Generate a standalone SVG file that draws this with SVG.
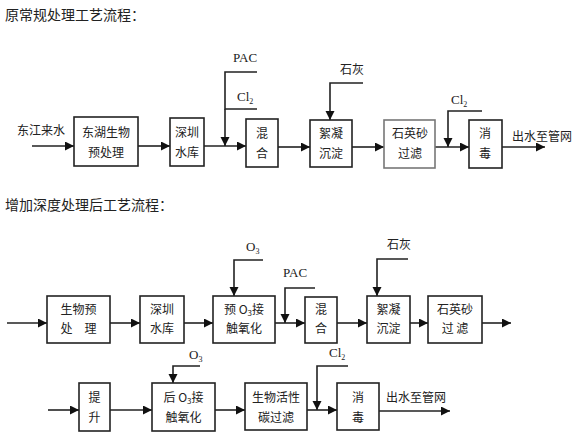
<svg xmlns="http://www.w3.org/2000/svg" width="582" height="437" viewBox="0 0 582 437">
<defs>
<marker id="ah" markerUnits="userSpaceOnUse" markerWidth="10" markerHeight="10" refX="9" refY="4.5" orient="auto">
<path d="M0,0 L9,4.5 L0,9 z" fill="#111"/>
</marker>
<style>
.title{font-family:"Noto Sans CJK SC","Noto Sans",sans-serif;font-size:14px;fill:#222}
.bx{fill:#fff;stroke:#222;stroke-width:1.6}
.bxg{fill:#fff;stroke:#777;stroke-width:1.6}
.t{font-family:"Noto Sans CJK SC","Noto Sans",sans-serif;font-size:12px;fill:#222;text-anchor:middle}
.lab{font-family:"Noto Sans CJK SC",sans-serif;font-size:12px;fill:#222}
.ch{font-family:"Liberation Serif",serif;font-size:13px;fill:#222}
.ln{fill:none;stroke:#222;stroke-width:1.6}
.lna{fill:none;stroke:#222;stroke-width:1.6;marker-end:url(#ah)}
</style>
</defs>
<rect width="582" height="437" fill="#fff"/>
<text class="title" x="5" y="20">原常规处理工艺流程：</text>
<text class="title" x="5" y="210">增加深度处理后工艺流程：</text>

<g id="connectors">
<line class="lna" x1="32" y1="146" x2="74" y2="146"/>
<line class="lna" x1="138" y1="146" x2="170" y2="146"/>
<line class="lna" x1="204" y1="146" x2="246" y2="146"/>
<polyline class="ln" points="257,72 225,72 225,109 257,109"/>
<line class="lna" x1="225" y1="109" x2="225" y2="146"/>
<line class="lna" x1="278" y1="147" x2="310" y2="147"/>
<polyline class="lna" points="363,83 330,83 330,120"/>
<line class="lna" x1="352" y1="147" x2="384" y2="147"/>
<line class="lna" x1="435" y1="147" x2="469" y2="147"/>
<polyline class="lna" points="482,111 448,111 448,147"/>
<line class="lna" x1="502" y1="147" x2="545" y2="147"/>
<line class="lna" x1="7" y1="323" x2="47" y2="323"/>
<line class="lna" x1="110" y1="323" x2="140" y2="323"/>
<line class="lna" x1="184" y1="323" x2="213" y2="323"/>
<polyline class="lna" points="263,260 234,260 234,296"/>
<line class="lna" x1="275" y1="323" x2="305" y2="323"/>
<polyline class="lna" points="315,288 285,288 285,323"/>
<line class="lna" x1="337" y1="323" x2="367" y2="323"/>
<polyline class="lna" points="408,259 377,259 377,296"/>
<line class="lna" x1="410" y1="323" x2="428" y2="323"/>
<line class="lna" x1="482" y1="323" x2="511" y2="323"/>
<line class="lna" x1="48" y1="410" x2="79" y2="410"/>
<line class="lna" x1="110" y1="410" x2="152" y2="410"/>
<polyline class="lna" points="200,366 173,366 173,383"/>
<line class="lna" x1="215" y1="410" x2="245" y2="410"/>
<polyline class="lna" points="348,366 317,366 317,410"/>
<line class="lna" x1="307" y1="410" x2="337" y2="410"/>
<line class="lna" x1="379" y1="411" x2="450" y2="411"/>
</g>

<g id="labels">
<text class="lab" x="17" y="135">东江来水</text>
<text class="ch" x="233" y="62">PAC</text>
<text class="ch" x="237" y="101">Cl<tspan font-size="8" dy="3">2</tspan></text>
<text class="lab" x="340" y="74">石灰</text>
<text class="ch" x="451" y="104">Cl<tspan font-size="8" dy="3">2</tspan></text>
<text class="lab" x="512" y="141">出水至管网</text>
<text class="ch" x="246" y="251">O<tspan font-size="8" dy="3">3</tspan></text>
<text class="ch" x="283" y="277">PAC</text>
<text class="lab" x="387" y="249">石灰</text>
<text class="ch" x="189" y="359">O<tspan font-size="8" dy="3">3</tspan></text>
<text class="ch" x="329" y="357">Cl<tspan font-size="8" dy="3">2</tspan></text>
<text class="lab" x="386" y="402">出水至管网</text>
</g>

<g id="n1"><rect class="bx" x="74" y="117" width="64" height="49"/><text class="t" x="106" y="137">东湖生物</text><text class="t" x="106" y="157">预处理</text></g>
<g id="n2"><rect class="bx" x="170" y="118" width="34" height="48"/><text class="t" x="187" y="137">深圳</text><text class="t" x="187" y="157">水库</text></g>
<g id="n3"><rect class="bx" x="246" y="119" width="32" height="48"/><text class="t" x="262" y="138">混</text><text class="t" x="262" y="158">合</text></g>
<g id="n4"><rect class="bx" x="310" y="120" width="42" height="47"/><text class="t" x="331" y="138">絮凝</text><text class="t" x="331" y="158">沉淀</text></g>
<g id="n5"><rect class="bxg" x="384" y="120" width="51" height="48"/><text class="t" x="410" y="138">石英砂</text><text class="t" x="410" y="158">过滤</text></g>
<g id="n6"><rect class="bx" x="469" y="120" width="33" height="48"/><text class="t" x="485" y="138">消</text><text class="t" x="485" y="158">毒</text></g>

<g id="m1"><rect class="bx" x="47" y="296" width="63" height="47"/><text class="t" x="78.5" y="314">生物预</text><text class="t" x="78.5" y="333">处　理</text></g>
<g id="m2"><rect class="bx" x="140" y="296" width="44" height="47"/><text class="t" x="162" y="314">深圳</text><text class="t" x="162" y="333">水库</text></g>
<g id="m3"><rect class="bx" x="213" y="296" width="62" height="47"/><text class="t" x="244" y="314">预 O<tspan font-size="8" dy="2">3</tspan><tspan dy="-2">接</tspan></text><text class="t" x="244" y="333">触氧化</text></g>
<g id="m4"><rect class="bx" x="305" y="297" width="32" height="46"/><text class="t" x="321" y="314">混</text><text class="t" x="321" y="333">合</text></g>
<g id="m5"><rect class="bx" x="367" y="296" width="43" height="47"/><text class="t" x="388.5" y="314">絮凝</text><text class="t" x="388.5" y="333">沉淀</text></g>
<g id="m6"><rect class="bx" x="428" y="296" width="54" height="47"/><text class="t" x="455" y="314">石英砂</text><text class="t" x="455" y="333">过 滤</text></g>

<g id="k1"><rect class="bx" x="79" y="383" width="31" height="48"/><text class="t" x="94.5" y="402">提</text><text class="t" x="94.5" y="422">升</text></g>
<g id="k2"><rect class="bx" x="152" y="383" width="63" height="48"/><text class="t" x="183.5" y="402">后 O<tspan font-size="8" dy="2">3</tspan><tspan dy="-2">接</tspan></text><text class="t" x="183.5" y="422">触氧化</text></g>
<g id="k3"><rect class="bx" x="245" y="383" width="62" height="47"/><text class="t" x="276" y="402">生物活性</text><text class="t" x="276" y="422">碳过滤</text></g>
<g id="k4"><rect class="bx" x="337" y="383" width="42" height="47"/><text class="t" x="358" y="402">消</text><text class="t" x="358" y="422">毒</text></g>
</svg>
